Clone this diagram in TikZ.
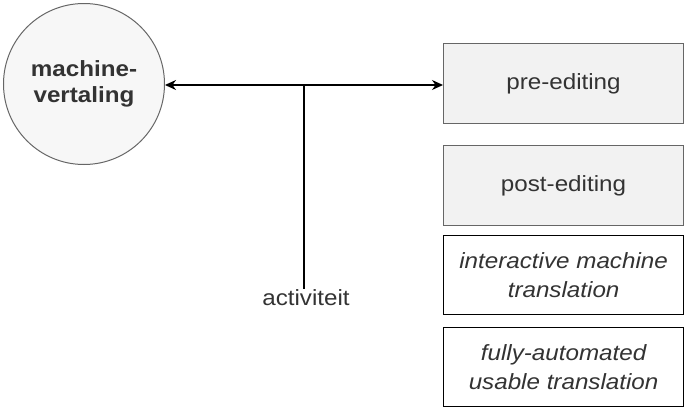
\documentclass[tikz,border=0pt]{standalone}
\usepackage{fontspec}
\setmainfont{Liberation Sans}[FakeStretch=1.1]
\usetikzlibrary{arrows.meta}
\definecolor{txt}{HTML}{333333}
\definecolor{gfill}{HTML}{F2F2F2}
\definecolor{gdraw}{HTML}{666666}
\tikzset{
  graybox/.style={draw=gdraw, fill=gfill, line width=1pt, minimum width=240pt, minimum height=80pt, anchor=north west, inner sep=0pt, text=txt, font=\fontsize{22}{26}\selectfont},
  whitebox/.style={draw=black, fill=white, line width=1.2pt, minimum width=240pt, minimum height=79pt, anchor=north west, inner sep=0pt, align=center, text=txt, font=\fontsize{22}{29}\selectfont\itshape},
  conn/.style={line width=1.3pt, draw=black},
  tip/.style={-{Stealth[length=11pt,width=10pt]}}
}
\begin{document}
\begin{tikzpicture}[x=1pt,y=-1pt]
\useasboundingbox (0,0) rectangle (684,407);
\node[circle, draw=gdraw, fill=gfill!60!white, line width=1pt, minimum size=161pt, inner sep=0pt, align=center, text=txt, font=\fontsize{22}{26}\selectfont\bfseries] (mv) at (84,84) {machine-\\vertaling};
\node[graybox] (pre) at (443,43) {pre-editing};
\node[graybox] (post) at (443,145) {post-editing};
\node[whitebox] (imt) at (443,235) {interactive machine\\translation};
\node[whitebox] (fa) at (443,327) {fully-automated\\usable translation};
\coordinate (j) at (304,85);
\node[text=txt, font=\fontsize{22}{24}\selectfont, inner sep=1pt] (act) at (306,298) {activiteit};
\draw[conn, tip] (j) -- (mv.east |- j);
\draw[conn, tip] (j) -- (pre.west |- j);
\draw[conn] (j) -- (act.north -| j);
\end{tikzpicture}
\end{document}
